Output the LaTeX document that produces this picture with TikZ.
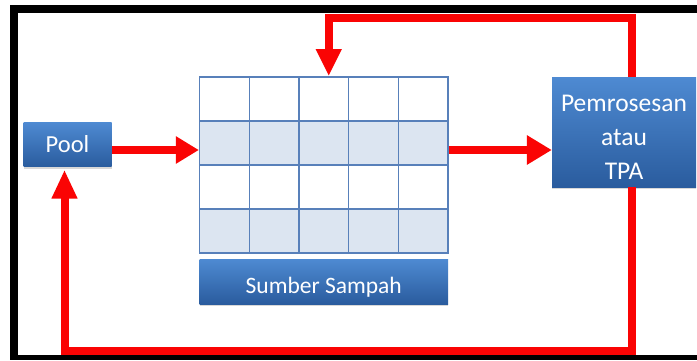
\documentclass[tikz,border=0pt]{standalone}
\usepackage{fontspec}
\setmainfont{Carlito}
\usetikzlibrary{arrows.meta, positioning, fit, shadows}

\definecolor{boxtop}{RGB}{78,138,210}
\definecolor{boxbot}{RGB}{42,92,158}
\definecolor{gridline}{RGB}{88,128,186}
\definecolor{gridfill}{RGB}{220,229,241}
\definecolor{flowred}{RGB}{250,4,4}

\begin{document}
\begin{tikzpicture}[
    x=1pt, y=-1pt,
    box/.style={rectangle, top color=boxtop, bottom color=boxbot, text=white, inner sep=0pt,
        drop shadow={shadow xshift=0pt, shadow yshift=-2pt, opacity=0.3}},
    cell/.style={rectangle, draw=gridline, line width=1.3pt, minimum width=49.7pt, minimum height=44pt, inner sep=0pt},
    flow/.style={draw=flowred, line width=8pt}
]
\fill[white] (0,0) rectangle (697,360);
\useasboundingbox (0,0) rectangle (697,360);

% black frame, open on the right
\fill[black] (10,5) rectangle (697,13);
\fill[black] (10,5) rectangle (18,360);
\fill[black] (10,355) rectangle (697,360);

% grid of sources, every second row shaded
\foreach \i in {1,...,5}
  \foreach \j in {1,...,4} {
    \pgfmathsetmacro{\shade}{mod(\j,2)==0 ? "gridfill" : "white"}
    \node[cell, fill=\shade] (c-\i-\j) at ({199.5+(\i-0.5)*49.7}, {77+(\j-0.5)*44}) {};
  }
\node[fit=(c-1-1)(c-5-4), inner sep=0pt] (grid) {};

% boxes
\node[box, minimum width=88pt, minimum height=44pt, font=\fontsize{24.5}{28}\selectfont] (pool) at (67.5,144.5) {Pool};
\node[box, below=5pt of grid, minimum width=248.5pt, minimum height=45pt, text height=27pt,
    font=\fontsize{23.5}{27}\selectfont] (sumber) {Sumber Sampah};
\node[box, align=center, minimum width=144pt, minimum height=110pt,
    font=\fontsize{25.5}{34}\selectfont] (tpa) at (624,132) {\rule{0pt}{27pt}Pemrosesan\\atau\\TPA};

% flow lines
\coordinate (mid) at ([yshift=-7pt]c-1-2.west);
\coordinate (roof) at (0,17.5);
\coordinate (floor) at (0,351);

\draw[flow, -{Triangle[length=23pt, width=26pt]}] (pool.east |- mid) -- (mid);
\draw[flow, -{Triangle[length=25pt, width=28pt]}] ([yshift=-7pt]c-5-2.east) -- ([yshift=-7pt]c-5-2.east -| tpa.west);

% loop back over the top and along the bottom
\draw[flow, -{Triangle[length=27pt, width=24pt]}] ([xshift=8pt]tpa.north) -- ([xshift=8pt]tpa.north |- roof) -| ([xshift=5pt]grid.north);
\draw[flow, -{Triangle[length=29pt, width=24pt]}] ([xshift=8pt]tpa.south) -- ([xshift=8pt]tpa.south |- floor) -| ([xshift=-3pt, yshift=-3pt]pool.south);

\end{tikzpicture}
\end{document}
